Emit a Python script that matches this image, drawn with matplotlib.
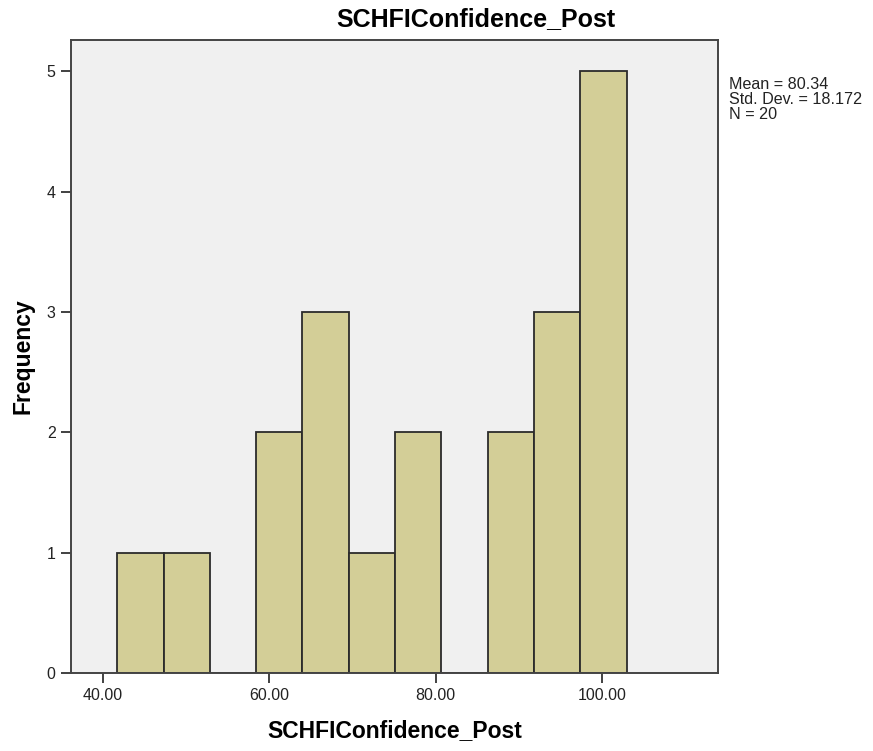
import matplotlib.pyplot as plt
import numpy as np

plt.rcParams['font.family'] = ['Liberation Sans', 'DejaVu Sans']

# histogram data
counts = [1, 1, 0, 2, 3, 1, 2, 0, 2, 3, 5]
bin_start = 41.75
bin_width = 5.56
stats_lines = ['Mean = 80.34', 'Std. Dev. = 18.172', 'N = 20']
xticks = [40, 60, 80, 100]
yticks = [0, 1, 2, 3, 4, 5]

edges = bin_start + bin_width * np.arange(len(counts))

fig = plt.figure(figsize=(8.73, 7.51), dpi=100)
ax = fig.add_axes([71 / 873, 1 - 673 / 751, 646.7 / 873, 633 / 751])
ax.set_facecolor('#F0F0F0')

ax.bar(edges, counts, width=bin_width, align='edge',
       color='#D3CE97', edgecolor='#2B2B2B', linewidth=1.3)

ax.set_xlim(36.2, 113.85)
ax.set_ylim(0, 5.26)
ax.set_xticks(xticks)
ax.set_xticklabels(['%.2f' % t for t in xticks])
ax.set_yticks(yticks)
ax.tick_params(axis='both', length=7, width=1.3, color='#333333',
               labelsize=11.5, pad=4, labelcolor='#222222')

for s in ax.spines.values():
    s.set_color('#444444')
    s.set_linewidth(1.4)

ax.set_xlabel('SCHFIConfidence_Post', fontsize=16.5, fontweight='bold', va='center')
ax.xaxis.set_label_coords(0.5, -58 / 633)
ax.set_ylabel('Frequency', fontsize=16.5, fontweight='bold', va='center')
ax.yaxis.set_label_coords(-(71 - 23.3) / 646.7, 0.5)

fig.text(476 / 873, 1 - 19.5 / 751, 'SCHFIConfidence_Post', fontsize=18,
         fontweight='bold', ha='center', va='center')

fig.text(729 / 873, 1 - 77 / 751, '\n'.join(stats_lines), fontsize=11.6,
         ha='left', va='top', linespacing=1.0, color='#222222')

fig.savefig('out.png', dpi=100, facecolor='white')
